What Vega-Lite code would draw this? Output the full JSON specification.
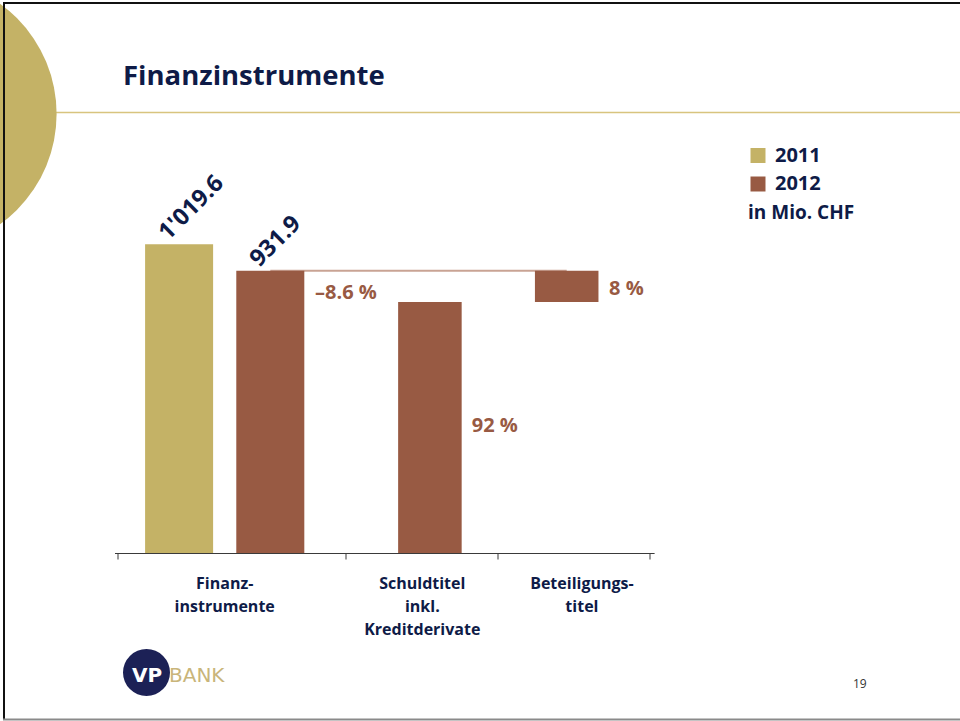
{
  "$schema": "https://vega.github.io/schema/vega-lite/v6.json",
  "width": 539.6,
  "height": 553,
  "autosize": {"type": "none"},
  "padding": {"left": 114.5, "top": 0, "right": 305.9, "bottom": 168},
  "background": "#ffffff",
  "config": {"view": {"stroke": null}, "font": "Open Sans"},
  "resolve": {"scale": {"x": "independent", "y": "independent"}},
  "layer": [
    {
      "data": {
        "values": [
          {"key": "Finanzinstrumente 2011", "group": "Finanzinstrumente", "year": "2011", "start": 0, "end": 1019.6, "label": "1'019.6"},
          {"key": "Finanzinstrumente 2012", "group": "Finanzinstrumente", "year": "2012", "start": 0, "end": 931.9, "label": "931.9", "pct": "–8.6 %"},
          {"key": "Schuldtitel inkl. Kreditderivate 2012", "group": "Schuldtitel inkl. Kreditderivate", "year": "2012", "start": 0, "end": 829, "pct": "92 %"},
          {"key": "Beteiligungstitel 2012", "group": "Beteiligungstitel", "year": "2012", "start": 829, "end": 931.9, "pct": "8 %"}
        ]
      },
      "encoding": {
        "x": {
          "field": "key",
          "type": "nominal",
          "sort": null,
          "scale": {
            "type": "band",
            "paddingInner": 0,
            "paddingOuter": 0,
            "domain": ["|0", "_1", "_2", "_3", "_4", "_5", "_6", "_7", "Finanzinstrumente 2011", "_9", "_10", "_11", "_12", "_13", "Finanzinstrumente", "_15", "_16", "_17", "_18", "_19", "Finanzinstrumente 2012", "_21", "_22", "_23", "_24", "_25", "_26", "_27", "_28", "_29", "|1", "_31", "_32", "_33", "_34", "_35", "_36", "_37", "_38", "_39", "Schuldtitel inkl. Kreditderivate", "Schuldtitel inkl. Kreditderivate 2012", "_42", "_43", "_44", "_45", "_46", "_47", "_48", "_49", "|2", "_51", "_52", "_53", "_54", "_55", "_56", "_57", "_58", "Beteiligungstitel 2012", "_60", "Beteiligungstitel", "_62", "_63", "_64", "_65", "_66", "_67", "_68", "_69", "|3"]
          },
          "axis": {
            "values": ["|0", "Finanzinstrumente", "|1", "Schuldtitel inkl. Kreditderivate", "|2", "Beteiligungstitel", "|3"],
            "title": null,
            "domain": true,
            "domainColor": "#3a3a3a",
            "domainWidth": 1,
            "ticks": true,
            "tickSize": 6,
            "tickWidth": 1,
            "tickColor": "#3a3a3a",
            "tickOpacity": {"condition": {"test": "indexof(datum.value, '|') == 0", "value": 1}, "value": 0},
            "labelExpr": "datum.value == 'Finanzinstrumente' ? ['Finanz-', 'instrumente'] : datum.value == 'Schuldtitel inkl. Kreditderivate' ? ['Schuldtitel', 'inkl.', 'Kreditderivate'] : datum.value == 'Beteiligungstitel' ? ['Beteiligungs-', 'titel'] : ''",
            "labelAngle": 0,
            "labelAlign": "center",
            "labelBaseline": "top",
            "labelFont": "Open Sans",
            "labelFontSize": 16,
            "labelFontWeight": "bold",
            "labelColor": "#0E1B47",
            "labelPadding": 16,
            "labelLineHeight": 23,
            "labelOverlap": false,
            "labelBound": false,
            "labelFlush": false,
            "labelLimit": 0,
            "grid": false
          }
        },
        "y": {
          "field": "end",
          "type": "quantitative",
          "scale": {"domain": [0, 1826], "nice": false, "zero": true},
          "axis": null
        }
      },
      "layer": [
        {
          "transform": [{"filter": "datum.key == 'Finanzinstrumente 2012' || datum.key == 'Beteiligungstitel 2012'"}],
          "mark": {"type": "line", "color": "#C9A394", "strokeWidth": 2},
          "encoding": {}
        },
        {
          "transform": [{"filter": "datum.group == 'Finanzinstrumente'"}],
          "mark": {"type": "bar", "width": {"band": 8.95}},
          "encoding": {
            "y2": {"field": "start"},
            "color": {
              "field": "year",
              "type": "nominal",
              "scale": {"domain": ["2011", "2012"], "range": ["#C4B266", "#985A43"]},
              "legend": {
                "orient": "none",
                "legendX": 633.5,
                "legendY": 145.5,
                "direction": "vertical",
                "title": "in Mio. CHF",
                "titleOrient": "bottom",
                "titleFont": "Open Sans",
                "titleFontSize": 19,
                "titleFontWeight": "bold",
                "titleColor": "#0E1B47",
                "titlePadding": 9,
                "titleLimit": 0,
                "symbolType": "square",
                "symbolSize": 225,
                "symbolStrokeWidth": 0,
                "symbolOpacity": 1,
                "labelFont": "Open Sans",
                "labelFontSize": 20,
                "labelFontWeight": "bold",
                "labelColor": "#0E1B47",
                "labelOffset": 7,
                "rowPadding": 8.5,
                "padding": 0,
                "offset": 0
              }
            }
          }
        },
        {
          "transform": [{"filter": "datum.group != 'Finanzinstrumente'"}],
          "mark": {"type": "bar", "width": {"band": 8.36}, "color": "#985A43"},
          "encoding": {"y2": {"field": "start"}}
        },
        {
          "transform": [{"filter": "datum.group == 'Finanzinstrumente'"}],
          "mark": {"type": "text", "angle": 315, "align": "left", "baseline": "alphabetic", "dx": -5.7, "dy": -9.9, "font": "Open Sans", "fontSize": 23.5, "fontWeight": "bold", "color": "#0E1B47"},
          "encoding": {"text": {"field": "label", "type": "nominal"}}
        },
        {
          "transform": [{"filter": "datum.key == 'Finanzinstrumente 2012'"}],
          "mark": {"type": "text", "align": "left", "baseline": "middle", "dx": 44.7, "dy": 22.3, "font": "Open Sans", "fontSize": 20, "fontWeight": "bold", "color": "#985A43"},
          "encoding": {"text": {"field": "pct", "type": "nominal"}}
        },
        {
          "transform": [{"filter": "datum.group == 'Schuldtitel inkl. Kreditderivate'"}],
          "mark": {"type": "text", "align": "left", "baseline": "middle", "dx": 41.8, "dy": 123.6, "font": "Open Sans", "fontSize": 20, "fontWeight": "bold", "color": "#985A43"},
          "encoding": {"text": {"field": "pct", "type": "nominal"}}
        },
        {
          "transform": [{"filter": "datum.group == 'Beteiligungstitel'"}],
          "mark": {"type": "text", "align": "left", "baseline": "middle", "dx": 42.3, "dy": 17.8, "font": "Open Sans", "fontSize": 20, "fontWeight": "bold", "color": "#985A43"},
          "encoding": {"text": {"field": "pct", "type": "nominal"}}
        }
      ]
    },
    {
      "data": {"values": [{}]},
      "layer": [
        {
          "mark": {"type": "rule", "color": "#D8C47E", "strokeWidth": 1.5, "clip": false},
          "encoding": {
            "x": {"datum": 0, "type": "quantitative", "scale": {"domain": [114.5, 654.1], "nice": false, "zero": false}, "axis": null},
            "x2": {"datum": 960},
            "y": {"datum": 112.5, "type": "quantitative", "scale": {"domain": [0, 553], "reverse": true, "nice": false, "zero": false}, "axis": null}
          }
        },
        {
          "mark": {"type": "point", "shape": "circle", "filled": true, "color": "#C4B266", "opacity": 1, "size": 73550, "strokeWidth": 0, "clip": false},
          "encoding": {
            "x": {"datum": -79, "type": "quantitative", "scale": {"domain": [114.5, 654.1], "nice": false, "zero": false}, "axis": null},
            "y": {"datum": 114, "type": "quantitative", "scale": {"domain": [0, 553], "reverse": true, "nice": false, "zero": false}, "axis": null}
          }
        },
        {
          "mark": {"type": "rule", "color": "#111111", "strokeWidth": 2, "clip": false},
          "encoding": {
            "x": {"datum": 3, "type": "quantitative", "scale": {"domain": [114.5, 654.1], "nice": false, "zero": false}, "axis": null},
            "x2": {"datum": 960},
            "y": {"datum": 3, "type": "quantitative", "scale": {"domain": [0, 553], "reverse": true, "nice": false, "zero": false}, "axis": null}
          }
        },
        {
          "mark": {"type": "rule", "color": "#111111", "strokeWidth": 2, "clip": false},
          "encoding": {
            "x": {"datum": 4, "type": "quantitative", "scale": {"domain": [114.5, 654.1], "nice": false, "zero": false}, "axis": null},
            "y": {"datum": 2, "type": "quantitative", "scale": {"domain": [0, 553], "reverse": true, "nice": false, "zero": false}, "axis": null},
            "y2": {"datum": 720}
          }
        },
        {
          "mark": {"type": "rule", "color": "#8a8a8a", "strokeWidth": 2, "clip": false},
          "encoding": {
            "x": {"datum": 3, "type": "quantitative", "scale": {"domain": [114.5, 654.1], "nice": false, "zero": false}, "axis": null},
            "x2": {"datum": 960},
            "y": {"datum": 719.5, "type": "quantitative", "scale": {"domain": [0, 553], "reverse": true, "nice": false, "zero": false}, "axis": null}
          }
        },
        {
          "mark": {"type": "text", "text": "Finanzinstrumente", "align": "left", "baseline": "alphabetic", "font": "Open Sans", "fontSize": 27.5, "fontWeight": "bold", "color": "#0E1B47", "clip": false},
          "encoding": {
            "x": {"datum": 123, "type": "quantitative", "scale": {"domain": [114.5, 654.1], "nice": false, "zero": false}, "axis": null},
            "y": {"datum": 85, "type": "quantitative", "scale": {"domain": [0, 553], "reverse": true, "nice": false, "zero": false}, "axis": null}
          }
        },
        {
          "mark": {"type": "point", "shape": "circle", "filled": true, "color": "#1C2156", "opacity": 1, "size": 2209, "strokeWidth": 0, "clip": false},
          "encoding": {
            "x": {"datum": 146.5, "type": "quantitative", "scale": {"domain": [114.5, 654.1], "nice": false, "zero": false}, "axis": null},
            "y": {"datum": 672.5, "type": "quantitative", "scale": {"domain": [0, 553], "reverse": true, "nice": false, "zero": false}, "axis": null}
          }
        },
        {
          "mark": {"type": "text", "text": "VP", "align": "center", "baseline": "alphabetic", "font": "DejaVu Sans", "fontSize": 20, "fontWeight": "bold", "color": "#ffffff", "clip": false},
          "encoding": {
            "x": {"datum": 147, "type": "quantitative", "scale": {"domain": [114.5, 654.1], "nice": false, "zero": false}, "axis": null},
            "y": {"datum": 682, "type": "quantitative", "scale": {"domain": [0, 553], "reverse": true, "nice": false, "zero": false}, "axis": null}
          }
        },
        {
          "mark": {"type": "text", "text": "BANK", "align": "left", "baseline": "alphabetic", "font": "DejaVu Sans", "fontSize": 20, "color": "#C9B57A", "clip": false},
          "encoding": {
            "x": {"datum": 169, "type": "quantitative", "scale": {"domain": [114.5, 654.1], "nice": false, "zero": false}, "axis": null},
            "y": {"datum": 682, "type": "quantitative", "scale": {"domain": [0, 553], "reverse": true, "nice": false, "zero": false}, "axis": null}
          }
        },
        {
          "mark": {"type": "text", "text": "19", "align": "left", "baseline": "alphabetic", "font": "Open Sans", "fontSize": 12, "color": "#333333", "clip": false},
          "encoding": {
            "x": {"datum": 853, "type": "quantitative", "scale": {"domain": [114.5, 654.1], "nice": false, "zero": false}, "axis": null},
            "y": {"datum": 688, "type": "quantitative", "scale": {"domain": [0, 553], "reverse": true, "nice": false, "zero": false}, "axis": null}
          }
        }
      ]
    }
  ]
}
